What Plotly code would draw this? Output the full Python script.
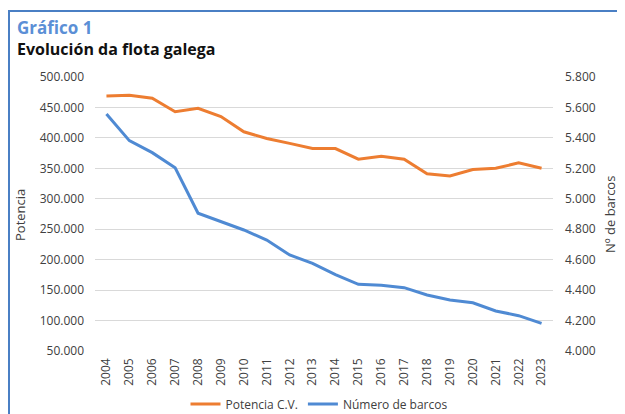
import plotly.graph_objects as go

years = [str(y) for y in range(2004, 2024)]
potencia = [469000, 470000, 465000, 443000, 448500, 435000, 410000, 399000, 391000, 382500,
            382500, 365000, 370000, 365000, 341000, 337500, 348000, 350000, 359000, 350000]
barcos = [5557, 5382, 5303, 5204, 4905, 4849, 4795, 4729, 4631, 4576,
          4502, 4438, 4432, 4416, 4368, 4335, 4317, 4263, 4232, 4182]
left_ticks = list(range(50000, 500001, 50000))
right_ticks = list(range(4000, 5801, 200))

ORANGE = "#ed7d31"
BLUE = "#4f8ad3"
FONT = "Open Sans"
TXT = "#404040"

# page offset of the figure inside the browser page (default body margin)
OFF = 8
PL, PR, PT, PB = 95, 553, 77, 351   # plot area in page pixels
PW, PH = PR - PL, PB - PT


def px(xp):
    return (xp - PL) / PW


def py(yp):
    return (PB - yp) / PH


fig = go.Figure()
fig.add_trace(go.Scatter(x=years, y=potencia, name="Potencia C.V.", mode="lines",
                         line=dict(color=ORANGE, width=3), yaxis="y"))
fig.add_trace(go.Scatter(x=years, y=barcos, name="Número de barcos", mode="lines",
                         line=dict(color=BLUE, width=3), yaxis="y2"))

W, H = 625 - OFF, 414 - OFF
fig.update_layout(
    width=W, height=H,
    margin=dict(l=PL - OFF, r=W - (PR - OFF), t=PT - OFF, b=H - (PB - OFF), autoexpand=False),
    paper_bgcolor="white", plot_bgcolor="white",
    separators=",.",
    font=dict(family=FONT, size=12, color=TXT),
    showlegend=True,
    legend=dict(orientation="h", x=px(319), xanchor="center", yref="container",
                y=1 - (404 - OFF) / H, yanchor="middle",
                font=dict(size=12, color=TXT), itemwidth=30, traceorder="normal",
                bgcolor="rgba(0,0,0,0)"),
    xaxis=dict(type="category", range=[-0.5, 19.5], tickangle=-90, showgrid=False,
               showline=False, ticks="", tickfont=dict(size=12, color=TXT),
               ticklabelstandoff=4, automargin=False),
    yaxis=dict(range=[50000, 500000], tickvals=left_ticks, tickformat=",.0f",
               showgrid=True, gridcolor="#d9d9d9", gridwidth=1, zeroline=False,
               showline=False, ticks="", ticklabelstandoff=10, automargin=False,
               tickfont=dict(size=12, color=TXT)),
    yaxis2=dict(range=[4000, 5800], tickvals=right_ticks, tickformat=",.0f",
                overlaying="y", side="right", showgrid=False, zeroline=False,
                showline=False, ticks="", ticklabelstandoff=11, automargin=False,
                tickfont=dict(size=12, color=TXT)),
    annotations=[
        dict(text="<b><span style='color:#5b8fd6;font-size:17px'>Gráfico 1</span>"
                  "<br>Evolución da flota galega</b>",
             xref="paper", yref="paper", align="left",
             x=px(15), y=py(38), xanchor="left", yanchor="middle",
             showarrow=False, font=dict(family=FONT, size=16, color="#111111")),
        dict(text="Potencia", xref="paper", yref="paper", x=px(20),
             y=py(215), textangle=-90, showarrow=False,
             xanchor="center", yanchor="middle", font=dict(size=13, color=TXT)),
        dict(text="Nº de barcos", xref="paper", yref="paper", x=px(610),
             y=py(215), textangle=-90, showarrow=False,
             xanchor="center", yanchor="middle", font=dict(size=13, color=TXT)),
    ],
    shapes=[
        dict(type="line", xref="paper", yref="paper", x0=px(8.5), x1=px(640),
             y0=py(11), y1=py(11), line=dict(color="#4a7fc4", width=2)),
        dict(type="line", xref="paper", yref="paper", x0=px(9), x1=px(9),
             y0=py(10), y1=py(430), line=dict(color="#4a7fc4", width=2)),
    ],
)

fig.write_html("out.html")
